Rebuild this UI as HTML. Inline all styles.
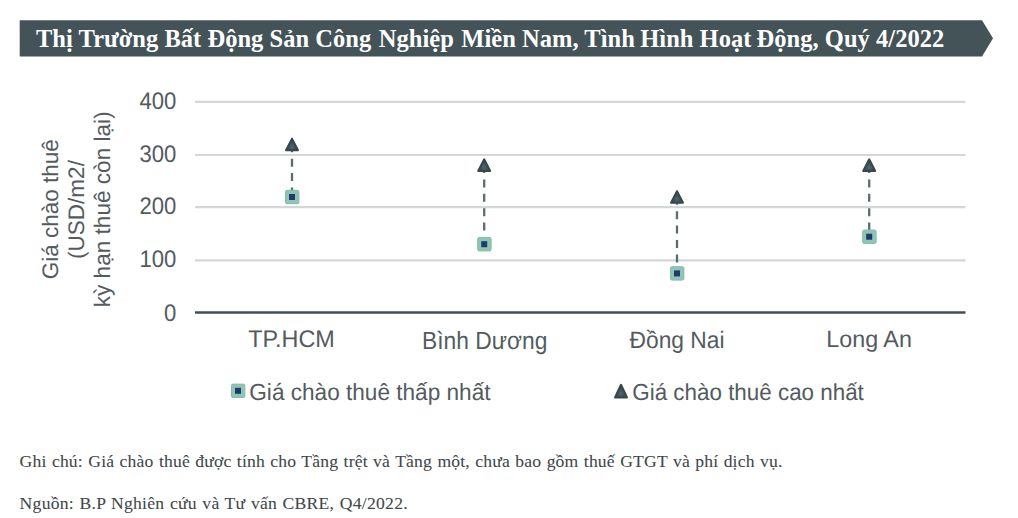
<!DOCTYPE html>
<html><head><meta charset="utf-8">
<style>
html,body{margin:0;padding:0;background:#fff;}
body{width:1018px;height:518px;position:relative;overflow:hidden;font-family:"Liberation Sans",sans-serif;}
svg{position:absolute;left:0;top:0;text-rendering:geometricPrecision;}
.t{position:absolute;white-space:nowrap;}
.title{left:36px;top:24.2px;letter-spacing:0.03px;font-family:"Liberation Serif",serif;font-weight:bold;font-size:24.5px;line-height:30px;color:#fff;}
.fn{left:19.6px;font-family:"Liberation Serif",serif;font-size:17.6px;letter-spacing:0.18px;word-spacing:0.8px;color:#3f474b;-webkit-text-stroke:0.08px #3f474b;line-height:20px;}
</style></head>
<body>
<svg width="1018" height="518" viewBox="0 0 1018 518">
  <polygon points="19.7,20.3 982,20.3 993,38.3 982,56.6 19.7,56.6" fill="#435357"/>
  <!-- gridlines -->
  <g stroke="#d3d7d8" stroke-width="2.2">
    <line x1="195" y1="101.85" x2="965.5" y2="101.85"/>
    <line x1="195" y1="155" x2="965.5" y2="155"/>
    <line x1="195" y1="207.1" x2="965.5" y2="207.1"/>
    <line x1="195" y1="260.4" x2="965.5" y2="260.4"/>
  </g>
  <line x1="195" y1="312.4" x2="965.5" y2="312.4" stroke="#434f53" stroke-width="2.5"/>
  <!-- dashed connectors -->
  <g stroke="#5c6d6e" stroke-width="2.3" stroke-dasharray="8 6.4">
    <line x1="292" y1="144.3" x2="292" y2="197"/>
    <line x1="484.2" y1="165" x2="484.2" y2="244"/>
    <line x1="677" y1="196.8" x2="677" y2="273.4"/>
    <line x1="869.2" y1="165" x2="869.2" y2="236.7"/>
  </g>
  <!-- triangles -->
  <defs>
    <radialGradient id="tg" cx="0.5" cy="0.68" r="0.5">
      <stop offset="0" stop-color="#4d6871"/>
      <stop offset="0.6" stop-color="#3f5259"/>
      <stop offset="1" stop-color="#394950"/>
    </radialGradient>
  </defs>
  <g fill="url(#tg)" stroke="#38474c" stroke-width="2" stroke-linejoin="round">
    <polygon points="292,138.6 298,150.2 286,150.2"/>
    <polygon points="484.2,159.3 490.2,170.9 478.2,170.9"/>
    <polygon points="677,191.1 683,202.7 671,202.7"/>
    <polygon points="869.2,159.3 875.2,170.9 863.2,170.9"/>
    <polygon points="621,384.8 627,397.4 615,397.4"/>
  </g>
  <!-- squares -->
  <g fill="#8fc5b5" stroke="#84bcab" stroke-width="1">
    <rect x="285.5" y="190.3" width="13.4" height="13.4" rx="1.5"/>
    <rect x="477.7" y="237.5" width="13.4" height="13.4" rx="1.5"/>
    <rect x="670.5" y="266.7" width="13.4" height="13.4" rx="1.5"/>
    <rect x="862.7" y="230" width="13.4" height="13.4" rx="1.5"/>
    <rect x="231.5" y="384.1" width="13.4" height="13.4" rx="1.5"/>
  </g>
  <g fill="#1f3a6c">
    <rect x="289" y="194" width="6" height="6"/>
    <rect x="481.2" y="241.2" width="6" height="6"/>
    <rect x="674" y="270.4" width="6" height="6"/>
    <rect x="866.2" y="233.7" width="6" height="6"/>
    <rect x="235" y="387.8" width="6" height="6"/>
  </g>
  <!-- tick labels -->
  <g font-family="Liberation Sans" font-size="22.1" fill="#535b5f" text-anchor="end">
    <text transform="translate(176.3,109.3) scale(1,1.092)">400</text>
    <text transform="translate(176.3,162.1) scale(1,1.092)">300</text>
    <text transform="translate(176.3,214.4) scale(1,1.092)">200</text>
    <text transform="translate(176.3,267.4) scale(1,1.092)">100</text>
    <text transform="translate(176.3,320.9) scale(1,1.092)">0</text>
  </g>
  <g font-family="Liberation Sans" font-size="22.8" fill="#535b5f" text-anchor="middle">
    <text font-size="23.4" transform="translate(291.5,347.31) scale(1,1.032)">TP.HCM</text>
    <text transform="translate(484.7,348.6) scale(1,1.085)">Bình Dương</text>
    <text transform="translate(677,347.90) scale(1,1.040)">Đồng Nai</text>
    <text font-size="23.3" transform="translate(869.1,347.3) scale(1,1.007)">Long An</text>
  </g>
  <g font-family="Liberation Sans" font-size="22.4" fill="#535b5f">
    <text font-size="22.6" transform="translate(249.3,400.16) scale(1,1.033)">Giá chào thuê thấp nhất</text>
    <text transform="translate(632.3,400.16) scale(1,1.033)">Giá chào thuê cao nhất</text>
  </g>
  <g font-family="Liberation Sans" font-size="22.5" fill="#535b5f" text-anchor="middle">
    <text transform="translate(58.3,209.3) rotate(-90)">Giá chào thuê</text>
    <text transform="translate(84.4,209.5) rotate(-90)">(USD/m2/</text>
    <text font-size="22.6" transform="translate(110.2,209.3) rotate(-90)">kỳ hạn thuê còn lại)</text>
  </g>
</svg>
<div class="t title">Thị Trường Bất Động Sản Công <span style="margin-left:1.4px"></span>Nghiệp <span style="margin-left:1.3px"></span>Miền Nam, Tình <span style="margin-left:-0.8px"></span>Hình Hoạt <span style="margin-left:-1px"></span>Động, Quý 4/2022</div>
<div class="t fn" style="top:450.85px">Ghi chú: Giá chào thuê được tính cho Tầng trệt và Tầng một, chưa bao gồm thuế GTGT và phí dịch vụ.</div>
<div class="t fn" style="top:492.95px;letter-spacing:0.27px">Nguồn: B.P Nghiên cứu và Tư vấn CBRE, Q4/2022.</div>
</body></html>
